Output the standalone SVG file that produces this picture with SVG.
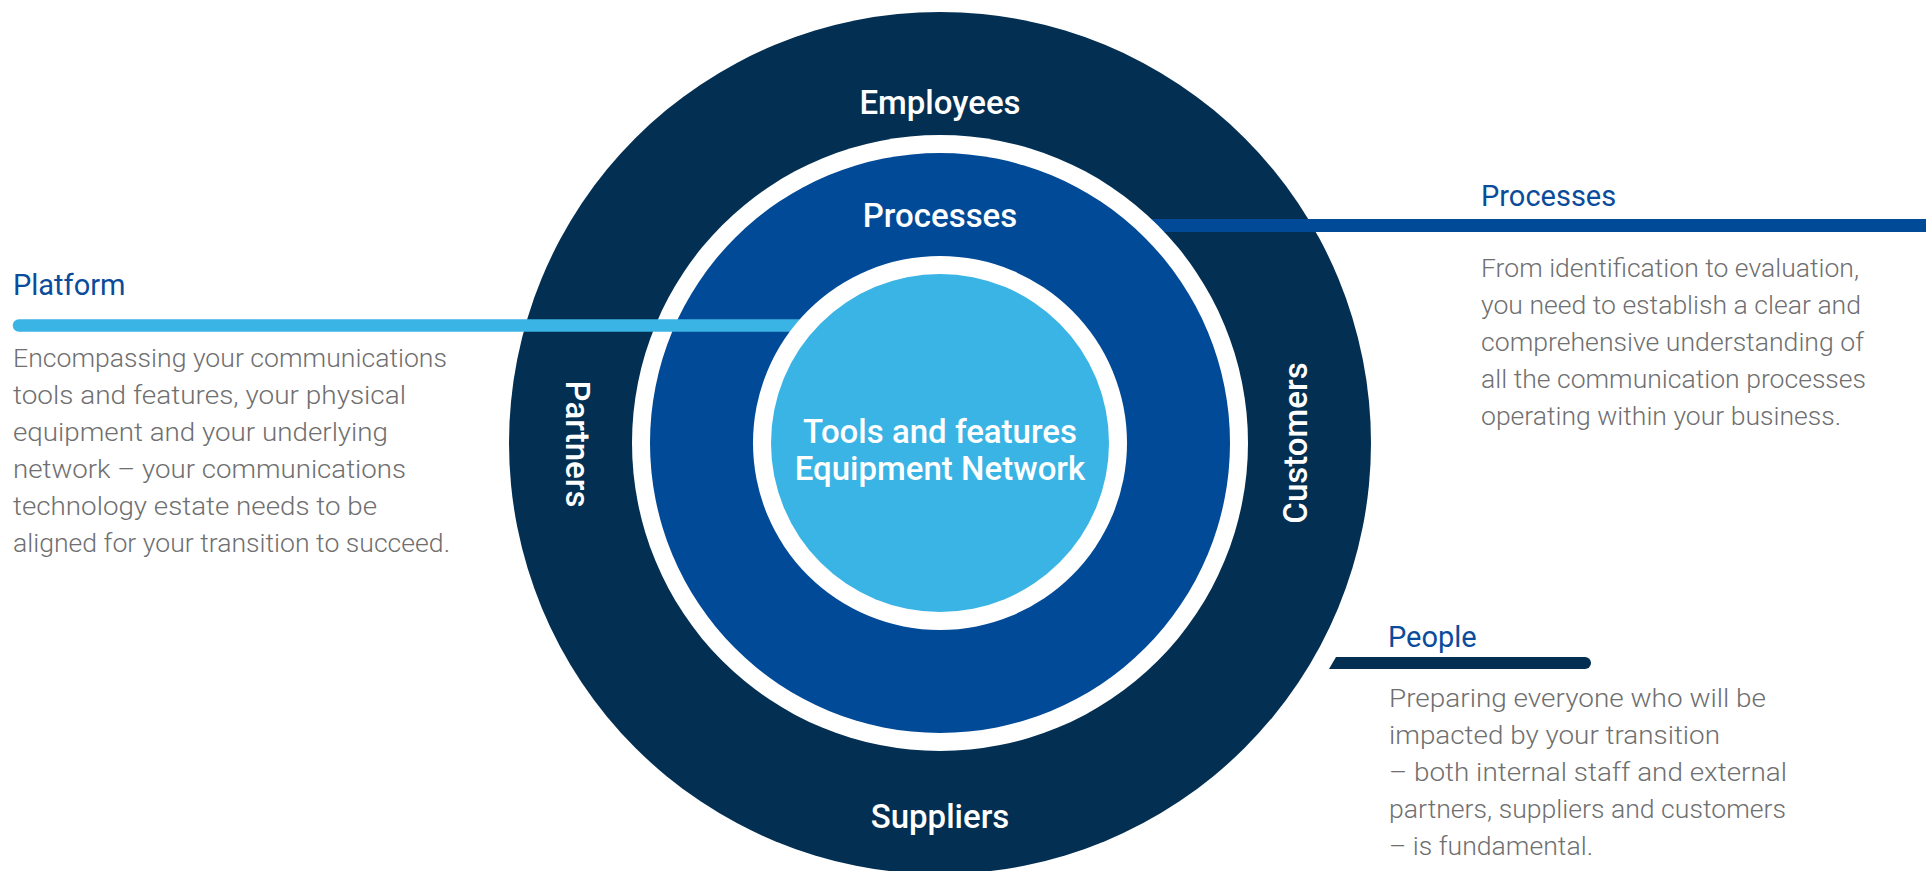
<svg xmlns="http://www.w3.org/2000/svg" width="1926" height="871" viewBox="0 0 1926 871">
<style>
.lbl{font-family:Roboto,"Liberation Sans",sans-serif;font-weight:500;font-size:33px;fill:#ffffff;text-anchor:middle}
.ttl{font-family:Roboto,"Liberation Sans",sans-serif;font-weight:400;font-size:29px;fill:#0a4c9b}
.body{font-family:Roboto,"Liberation Sans",sans-serif;font-weight:300;font-size:26.5px;fill:#6f6f70}
</style>
<rect width="1926" height="871" fill="#ffffff"/>
<g id="outer-ring">
<circle cx="940" cy="443" r="431" fill="#032f52"/>
</g>
<g id="connectors">
<rect id="processes-line" x="1100" y="219" width="826" height="13" fill="#014a97"/>
<path id="people-line" d="M1336,657 L1585,657 A6,6 0 0 1 1585,669 L1329,669 Z" fill="#032f52"/>
</g>
<g id="processes-ring">
<circle cx="940" cy="443" r="308" fill="#ffffff"/>
<circle cx="940" cy="443" r="290" fill="#014a97"/>
</g>
<g id="connectors-2">
<line id="platform-line" x1="19" y1="325.5" x2="830" y2="325.5" stroke="#3ab4e4" stroke-width="12.5" stroke-linecap="round"/>
</g>
<g id="core">
<circle cx="940" cy="443" r="187" fill="#ffffff"/>
<circle cx="940" cy="443" r="169" fill="#3ab4e4"/>
<text class="lbl" x="940" y="443">Tools and features</text>
<text class="lbl" x="940" y="480">Equipment Network</text>
</g>
<g id="ring-labels">
<text class="lbl" x="940" y="114">Employees</text>
<text class="lbl" x="940" y="227">Processes</text>
<text class="lbl" x="940" y="828">Suppliers</text>
<text class="lbl" transform="translate(566,444) rotate(90)">Partners</text>
<text class="lbl" transform="translate(1307,443) rotate(-90)">Customers</text>
</g>
<g id="platform">
<text class="ttl" x="13" y="295">Platform</text>
<text class="body" x="13" y="367" textLength="434" lengthAdjust="spacingAndGlyphs">Encompassing your communications</text>
<text class="body" x="13" y="404" textLength="393" lengthAdjust="spacingAndGlyphs">tools and features, your physical</text>
<text class="body" x="13" y="441" textLength="375" lengthAdjust="spacingAndGlyphs">equipment and your underlying</text>
<text class="body" x="13" y="478" textLength="393" lengthAdjust="spacingAndGlyphs">network – your communications</text>
<text class="body" x="13" y="515" textLength="364" lengthAdjust="spacingAndGlyphs">technology estate needs to be</text>
<text class="body" x="13" y="552" textLength="437" lengthAdjust="spacingAndGlyphs">aligned for your transition to succeed.</text>
</g>
<g id="processes">
<text class="ttl" x="1481" y="206">Processes</text>
<text class="body" x="1481" y="277" textLength="378" lengthAdjust="spacingAndGlyphs">From identification to evaluation,</text>
<text class="body" x="1481" y="314" textLength="380" lengthAdjust="spacingAndGlyphs">you need to establish a clear and</text>
<text class="body" x="1481" y="351" textLength="383" lengthAdjust="spacingAndGlyphs">comprehensive understanding of</text>
<text class="body" x="1481" y="388" textLength="385" lengthAdjust="spacingAndGlyphs">all the communication processes</text>
<text class="body" x="1481" y="425" textLength="360" lengthAdjust="spacingAndGlyphs">operating within your business.</text>
</g>
<g id="people">
<text class="ttl" x="1388" y="647">People</text>
<text class="body" x="1389" y="707" textLength="377" lengthAdjust="spacingAndGlyphs">Preparing everyone who will be</text>
<text class="body" x="1389" y="744" textLength="331" lengthAdjust="spacingAndGlyphs">impacted by your transition</text>
<text class="body" x="1389" y="781" textLength="398" lengthAdjust="spacingAndGlyphs">– both internal staff and external</text>
<text class="body" x="1389" y="818" textLength="397" lengthAdjust="spacingAndGlyphs">partners, suppliers and customers</text>
<text class="body" x="1389" y="855" textLength="204" lengthAdjust="spacingAndGlyphs">– is fundamental.</text>
</g>
</svg>
